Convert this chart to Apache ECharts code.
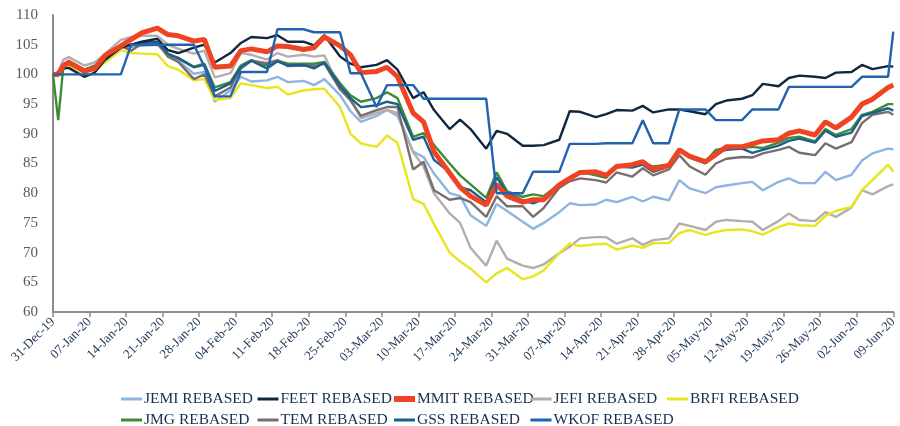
<!DOCTYPE html>
<html>
<head>
<meta charset="utf-8">
<script src="https://cdn.jsdelivr.net/npm/echarts@6/dist/echarts.min.js"></script>
<style>
  html, body { margin: 0; padding: 0; background: #fff; }
  #chart { width: 900px; height: 426px; }
</style>
</head>
<body>
<div id="chart"></div>
<script>
// sampled trading days (Mon/Wed/Fri) 31-Dec-19 .. 09-Jun-20
const dates = [
  '2019-12-31','2020-01-01','2020-01-02','2020-01-03',
  '2020-01-06','2020-01-08','2020-01-10','2020-01-13','2020-01-15','2020-01-17',
  '2020-01-20','2020-01-22','2020-01-24','2020-01-27','2020-01-29','2020-01-31',
  '2020-02-03','2020-02-05','2020-02-07','2020-02-10','2020-02-12','2020-02-14',
  '2020-02-17','2020-02-19','2020-02-21','2020-02-24','2020-02-26','2020-02-28',
  '2020-03-02','2020-03-04','2020-03-06','2020-03-09','2020-03-11','2020-03-13',
  '2020-03-16','2020-03-18','2020-03-20','2020-03-23','2020-03-25','2020-03-27',
  '2020-03-30','2020-04-01','2020-04-03','2020-04-06','2020-04-08','2020-04-10',
  '2020-04-13','2020-04-15','2020-04-17','2020-04-20','2020-04-22','2020-04-24',
  '2020-04-27','2020-04-29','2020-05-01','2020-05-04','2020-05-06','2020-05-08',
  '2020-05-11','2020-05-13','2020-05-15','2020-05-18','2020-05-20','2020-05-22',
  '2020-05-25','2020-05-27','2020-05-29','2020-06-01','2020-06-03','2020-06-05',
  '2020-06-08','2020-06-09'
];

const jemi = [100,100.2,101.5,101.8, 100.4,101,102.4, 104.5,104.6,104.8, 105,103.3,102.3, 100.1,100.4,95.4, 97.3,99.6,98.8, 99,99.6,98.7, 98.9,98.2,99.2, 96.5,93.8,92, 93,94,93, 87,86.1,83.3, 80,79.5,76.3, 74.5,78.2,77, 75.2,74,75, 76.8,78.3,78, 78.1,78.9,78.5, 79.4,78.6,79.4, 78.8,82.2,80.8, 80,81,81.3, 81.7,81.9,80.5, 81.9,82.5,81.7, 81.7,83.6,82.2, 83.1,85.5,86.7, 87.5,87.4];
const feet = [100,100.3,101,101.1, 99.6,100.3,102.5, 104.5,105,105.5, 106,104.1,103.6, 104.5,105,102, 103.6,105.3,106.3, 106.1,106.6,105.5, 105.5,104.9,106.6, 103,101.8,101.2, 101.6,102.4,100.8, 96,97,94, 90.8,92.4,90.8, 87.5,90.5,90, 88,88,88.1, 89,93.8,93.7, 92.8,93.3,94, 93.9,94.7,93.6, 94.1,94.1,93.8, 93.3,95,95.6, 95.9,96.5,98.4, 98,99.4,99.8, 99.6,99.4,100.3, 100.4,101.6,100.9, 101.4,101.3];
const mmit = [100,100,101.5,102, 100.6,101,103.2, 104.8,105.9,107, 107.8,106.7,106.5, 105.6,105.9,101.2, 101.4,104,104.3, 103.8,104.8,104.7, 104.2,104.5,106.3, 104.8,103.3,100.3, 100.5,101.2,99.6, 93.5,92,87, 83.4,81,79.5, 78,81.5,79.5, 78.5,78.9,78.9, 81.4,82.5,83.5, 83.6,83,84.5, 84.8,85.3,84, 84.7,87.3,86.2, 85.3,86.5,87.8, 87.8,88.3,88.8, 89,90.1,90.5, 89.8,92,91, 92.8,95,95.8, 97.8,98.2];
const jefi = [100,100.5,102.5,102.9, 101.5,102,103.5, 105.8,106.3,106.5, 106.5,105,104.3, 103.5,104,99.5, 100.2,103.6,103.3, 102.5,103.6,103, 103.3,103,103.2, 97.5,96,92.6, 93.5,94,93.5, 86.9,84.5,80, 76.6,75,70.8, 67.8,72,69, 67.8,67.4,68, 69.9,71,72.4, 72.6,72.6,71.5, 72.4,71.3,72.1, 72.4,74.9,74.5, 73.8,75.2,75.5, 75.3,75.2,73.8, 75.3,76.6,75.5, 75.3,76.8,76, 77.6,80.5,79.8, 81.2,81.5];
const brfi = [100,100.2,101.2,101.5, 100.2,100.8,102, 104.1,103.6,103.5, 103.4,101.4,100.8, 99,99.2,95.7, 96,98.5,98.2, 97.7,97.9,96.6, 97.3,97.5,97.6, 94.5,90,88.4, 87.8,89.7,88.5, 79,78.2,74.8, 70,68.5,67.3, 65,66.5,67.4, 65.5,66,67, 69.9,71.5,71.1, 71.4,71.5,70.5, 71.2,70.8,71.6, 71.6,73.3,73.8, 73,73.5,73.8, 73.9,73.6,73, 74.3,74.9,74.6, 74.5,76.2,77, 77.7,80.5,82.2, 84.8,83.6];
const jmg = [100,92.3,101.5,102.3, 100.8,101.5,102.5, 104.6,105,105.3, 105.3,103.3,102.8, 101.3,101.8,97.8, 98.7,101.5,102.4, 101.5,102.3,101.8, 101.8,101.8,102.1, 98.5,96.5,95.4, 96,97,96, 89.5,90.1,88.1, 85,83,81.5, 79.2,83.5,80.3, 79.4,79.8,79.5, 81.5,82.5,83.6, 83,82.6,84.7, 84.5,85,84.5, 84.8,87.5,86.3, 85.3,87.3,87.6, 87.6,87.8,87.6, 88.5,89.3,89.5, 88.7,90.8,89.8, 90.8,93.2,93.7, 95,95];
const tem = [100,100.3,101.5,102, 100.3,101,102.6, 104.8,104,105.2, 105.3,103,102.1, 99.2,100,96.3, 97.8,101,102.3, 101.9,102.4,101.4, 101.5,101.4,101.8, 97.5,95.6,93, 94,94.5,94.5, 84,85.3,80.5, 78.9,79.2,78.5, 76,79.5,77.8, 77.8,76,77.5, 80.9,82,82.5, 82.2,81.8,83.5, 82.8,84.2,83, 84,86.4,84.5, 83.1,85,85.8, 86.1,86,86.7, 87.3,87.8,86.8, 86.4,88.4,87.5, 88.6,91.8,93.2, 93.7,93.2];
const gss = [100,100.3,101.7,102, 100.6,101.3,102.5, 104.6,105,105.3, 105.5,103.5,102.7, 101.2,101.6,97.2, 98.5,101.2,102.3, 101,102.2,101.5, 101.6,101,102, 98,96,94.5, 94.8,95.4,95, 89,89.5,85.6, 83.5,81,80.5, 78.5,82.7,80, 78.8,78.3,79, 81,82.5,83.4, 83.4,82.8,84.5, 84.3,84.8,83.6, 84.5,87.3,86, 85,86.8,87.3, 87.5,86.8,87.3, 88,88.8,89.2, 88.5,90.5,89.5, 90.2,93,93.5, 94.3,93.9];
const wkof = [100,100,100,100, 100,100,100, 100,105,105, 105,105,105, 105,101.3,96.3, 96.3,100.4,100.4, 100.4,107.6,107.6, 107.6,107.1,107.1, 107.1,100.2,100.2, 94.5,98.2,98.2, 98.2,95.9,95.9, 95.9,95.9,95.9, 95.9,80,80, 80,83.6,83.6, 83.6,88.3,88.3, 88.3,88.4,88.4, 88.4,92.3,88.4, 88.4,94.1,94.1, 94.1,92.3,92.3, 92.3,94.1,94.1, 94.1,97.9,97.9, 97.9,97.9,97.9, 97.9,99.6,99.6, 99.6,107.2];

const yTicks = [60, 110, 5];   // min, max, step
// legend order, laid out in a 5-column grid like the original
const legendNames = ['JEMI REBASED', 'FEET REBASED', 'MMIT REBASED', 'JEFI REBASED', 'BRFI REBASED',
                     'JMG REBASED', 'TEM REBASED', 'GSS REBASED', 'WKOF REBASED'];

const MON = ['Jan','Feb','Mar','Apr','May','Jun','Jul','Aug','Sep','Oct','Nov','Dec'];
const base = Date.UTC(2019, 11, 31);
const DAY = 86400000;
function dayOf(s) { return Math.round((Date.parse(s + 'T00:00:00Z') - base) / DAY); }
function dayLabel(d) {
  const t = new Date(base + d * DAY);
  const dd = String(t.getUTCDate()).padStart(2, '0');
  return dd + '-' + MON[t.getUTCMonth()] + '-' + String(t.getUTCFullYear()).slice(2);
}
const xs = dates.map(dayOf);
function pts(vals) { return vals.map((v, i) => [xs[i], v]); }

function line(name, vals, color, width, z) {
  return {
    name: name, type: 'line', data: pts(vals),
    symbol: 'none', z: z || 2,
    lineStyle: { color: color, width: width },
    itemStyle: { color: color }
  };
}

const serif = "'Liberation Serif', 'DejaVu Serif', serif";
const navy = '#1c3658';

// one legend box per item so the columns line up
const legends = legendNames.map((n, i) => ({
  data: [n],
  left: 121 + (i % 5) * 136.5,
  top: i < 5 ? 391 : 412,
  padding: 0,
  icon: 'rect',
  itemWidth: 21,
  itemHeight: n === 'MMIT REBASED' ? 6 : 3,
  textStyle: { color: '#15304f', fontFamily: serif, fontSize: 15.5, padding: [0, 0, 0, -3] }
}));

const chart = echarts.init(document.getElementById('chart'));
chart.setOption({
  animation: false,
  grid: { left: 53, right: 6, top: 15, bottom: 114 },
  xAxis: {
    type: 'value', min: 0, max: 161, interval: 7,
    axisLine: { lineStyle: { color: '#8c8c8c', width: 2 } },
    axisTick: { show: true, length: 5, lineStyle: { color: '#8c8c8c', width: 1.5 } },
    splitLine: { show: false },
    axisLabel: {
      rotate: 45, margin: 8, color: navy, fontFamily: serif, fontSize: 13,
      formatter: v => (v % 7 === 0 ? dayLabel(v) : '')
    }
  },
  yAxis: {
    type: 'value', min: yTicks[0], max: yTicks[1], interval: yTicks[2],
    axisLine: { show: true, lineStyle: { color: '#8c8c8c', width: 2 } },
    axisTick: { show: false },
    splitLine: { show: false },
    axisLabel: { margin: 15, color: '#595959', fontFamily: serif, fontSize: 15 }
  },
  legend: legends,
  series: [
    line('JEMI REBASED', jemi, '#8db4e2', 2.4),
    line('FEET REBASED', feet, '#10283f', 2.4, 3),
    line('MMIT REBASED', mmit, '#ef4423', 5, 3),
    line('JEFI REBASED', jefi, '#b3aeac', 2.4),
    line('BRFI REBASED', brfi, '#e9e51c', 2.4),
    line('JMG REBASED', jmg, '#3d8b37', 2.4),
    line('TEM REBASED', tem, '#7a6d6d', 2.4),
    line('GSS REBASED', gss, '#1b5f8c', 2.4),
    line('WKOF REBASED', wkof, '#2163ae', 2.4, 4)
  ]
});
</script>
</body>
</html>
